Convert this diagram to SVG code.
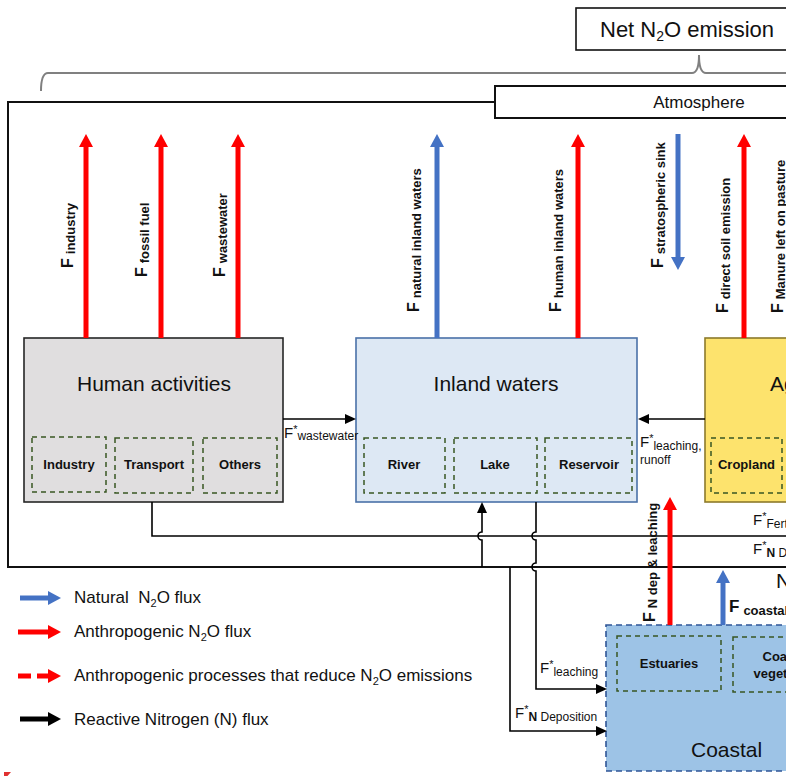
<svg xmlns="http://www.w3.org/2000/svg" width="786" height="776" viewBox="0 0 786 776">
<style>
text{font-family:"Liberation Sans",Arial,sans-serif;fill:#111}
.big{font-size:21px}
.bx{font-size:13px;font-weight:bold;text-anchor:middle}
.fl{font-size:16px;font-weight:bold}
.fs{font-size:13px;font-weight:bold}
.fk{font-size:15px}
.sup{font-size:11px}
.sb{font-size:12px}
.leg{font-size:17px}
.sub2{font-size:11px}
.sbox{fill:none;stroke:#385723;stroke-width:1.5;stroke-dasharray:5,4}
.red{stroke:#ff0000;stroke-width:5;fill:none}
.blue{stroke:#4472c4;stroke-width:5;fill:none}
.blk{stroke:#000;stroke-width:1.6;fill:none}
</style>
<defs>
<marker id="hr" markerUnits="userSpaceOnUse" markerWidth="13" markerHeight="14" refX="0" refY="7" orient="auto" viewBox="0 0 13 14"><path d="M0,0 L13,7 L0,14 Z" fill="#ff0000"/></marker>
<marker id="hb" markerUnits="userSpaceOnUse" markerWidth="13" markerHeight="14" refX="0" refY="7" orient="auto" viewBox="0 0 13 14"><path d="M0,0 L13,7 L0,14 Z" fill="#4472c4"/></marker>
<marker id="hk" markerUnits="userSpaceOnUse" markerWidth="11" markerHeight="10" refX="0" refY="5" orient="auto" viewBox="0 0 11 10"><path d="M0,0 L11,5 L0,10 Z" fill="#000"/></marker>
<marker id="hk2" markerUnits="userSpaceOnUse" markerWidth="13" markerHeight="14" refX="0" refY="7" orient="auto" viewBox="0 0 13 14"><path d="M0,0 L13,7 L0,14 Z" fill="#000"/></marker>
</defs>

<!-- top: net emission box and brace -->
<g id="net-emission">
<rect x="576" y="8" width="230" height="42" fill="#fff" stroke="#111" stroke-width="1.6"/>
<text class="big" x="600" y="37" style="font-size:22px">Net N<tspan class="sub2" style="font-size:14px" dy="4">2</tspan><tspan dy="-4">O emission</tspan></text>
</g>
<path id="brace" d="M41,91 Q41,73 48,73 H692 Q699,73 699,55 Q699,73 706,73 H800" fill="none" stroke="#808080" stroke-width="2"/>

<!-- outer frame -->
<rect id="frame" x="8" y="102" width="800" height="465" fill="none" stroke="#111" stroke-width="2"/>

<g id="atmosphere">
<rect x="495" y="86" width="310" height="32" fill="#fff" stroke="#111" stroke-width="2"/>
<text x="699" y="108" style="font-size:17px;text-anchor:middle">Atmosphere</text>
</g>

<!-- nodes -->
<g id="human-activities">
<rect x="24" y="338" width="259" height="164" fill="#e0dedf" stroke="#262626" stroke-width="1.6"/>
<text class="big" x="154" y="391" text-anchor="middle">Human activities</text>
<rect class="sbox" x="32" y="437" width="74" height="55"/>
<text class="bx" x="69" y="469">Industry</text>
<rect class="sbox" x="115" y="438" width="78" height="55"/>
<text class="bx" x="154" y="469">Transport</text>
<rect class="sbox" x="203" y="438" width="74" height="55"/>
<text class="bx" x="240" y="469">Others</text>
</g>

<g id="inland-waters">
<rect x="356" y="338" width="281" height="164" fill="#dde8f4" stroke="#4a71a8" stroke-width="1.6"/>
<text class="big" x="496" y="391" text-anchor="middle">Inland waters</text>
<rect class="sbox" x="364" y="438" width="81" height="55"/>
<text class="bx" x="404" y="469">River</text>
<rect class="sbox" x="454" y="438" width="83" height="55"/>
<text class="bx" x="495" y="469">Lake</text>
<rect class="sbox" x="545" y="438" width="87" height="55"/>
<text class="bx" x="589" y="469">Reservoir</text>
</g>

<g id="agriculture">
<rect x="705" y="338" width="120" height="164" fill="#fde36d" stroke="#8c7a2b" stroke-width="1.6"/>
<text class="big" x="770" y="391">Agriculture</text>
<rect class="sbox" x="711" y="438" width="71" height="55"/>
<text class="bx" x="746.5" y="469">Cropland</text>
</g>

<g id="coastal">
<rect x="606" y="625" width="220" height="146" fill="#9dc3e6" stroke="#2f5597" stroke-width="1.6" stroke-dasharray="6,4"/>
<rect class="sbox" x="617" y="636" width="104" height="55"/>
<text class="bx" x="669" y="668">Estuaries</text>
<rect class="sbox" x="733" y="637" width="100" height="55"/>
<text class="bx" x="786" y="661">Coastal</text>
<text class="bx" x="786" y="678">vegetation</text>
<text class="big" x="691" y="757">Coastal</text>
</g>

<text id="n-region" class="big" x="776" y="588">N</text>

<!-- connectors -->
<g id="connectors">
<line class="red" x1="86" y1="338" x2="86" y2="147" marker-end="url(#hr)"/>
<line class="red" x1="161" y1="338" x2="161" y2="147" marker-end="url(#hr)"/>
<line class="red" x1="238" y1="338" x2="238" y2="147" marker-end="url(#hr)"/>
<line class="blue" x1="437" y1="338" x2="437" y2="147" marker-end="url(#hb)"/>
<line class="red" x1="578" y1="338" x2="578" y2="147" marker-end="url(#hr)"/>
<line class="blue" x1="678" y1="134" x2="678" y2="257" marker-end="url(#hb)"/>
<line class="red" x1="744" y1="338" x2="744" y2="147" marker-end="url(#hr)"/>

<line class="blk" x1="283" y1="419" x2="345" y2="419" marker-end="url(#hk)"/>
<line class="blk" x1="705" y1="419" x2="649" y2="419" marker-end="url(#hk)"/>
<path class="blk" d="M152,502 V536 H800"/>
<path class="blk" d="M482,567 V540 A4,4 0 0 1 482,532 V513" marker-end="url(#hk)"/>
<path class="blk" d="M536,502 V532 A4,4 0 0 0 536,540 V563 A4,4 0 0 0 536,571 V689 H596" marker-end="url(#hk)"/>
<path class="blk" d="M510,567 V731 H596" marker-end="url(#hk)"/>

<line class="red" x1="670" y1="625" x2="670" y2="510" marker-end="url(#hr)"/>
<line class="blue" x1="723" y1="625" x2="723" y2="583" marker-end="url(#hb)"/>
</g>

<!-- flux labels -->
<g id="flux-labels">
<text class="fl" transform="translate(73,268) rotate(-90)">F<tspan class="fs" dx="4" dy="2">industry</tspan></text>
<text class="fl" transform="translate(147,277) rotate(-90)">F<tspan class="fs" dx="4" dy="2">fossil fuel</tspan></text>
<text class="fl" transform="translate(225,277) rotate(-90)">F<tspan class="fs" dx="4" dy="2">wastewater</tspan></text>
<text class="fl" transform="translate(419,312) rotate(-90)">F<tspan class="fs" dx="4" dy="2">natural inland waters</tspan></text>
<text class="fl" transform="translate(561,312) rotate(-90)">F<tspan class="fs" dx="4" dy="2">human inland waters</tspan></text>
<text class="fl" transform="translate(663,268) rotate(-90)">F<tspan class="fs" dx="4" dy="2">stratospheric sink</tspan></text>
<text class="fl" transform="translate(728,313) rotate(-90)">F<tspan class="fs" dx="4" dy="2">direct soil emission</tspan></text>
<text class="fl" transform="translate(783,313) rotate(-90)">F<tspan class="fs" dx="4" dy="2">Manure left on pasture</tspan></text>
<text class="fl" transform="translate(655,622) rotate(-90)">F<tspan class="fs" dx="4" dy="2">N dep &amp; leaching</tspan></text>
<text class="fl" x="729" y="612" style="font-size:17px">F<tspan class="fs" dx="4" dy="3">coastal</tspan></text>

<text class="fk" x="284" y="438">F<tspan class="sup" dy="-5">*</tspan><tspan class="sb" dy="7">wastewater</tspan></text>
<text class="fk" x="640" y="447">F<tspan class="sup" dy="-5">*</tspan><tspan class="sb" dy="8">leaching,</tspan></text>
<text class="sb" x="640" y="464">runoff</text>
<text class="fk" x="753" y="525">F<tspan class="sup" dy="-5">*</tspan><tspan class="sb" dy="8">Fertilizer</tspan></text>
<text class="fk" x="753" y="554">F<tspan class="sup" dy="-5">*</tspan><tspan class="sb" dy="8" font-weight="bold">N</tspan><tspan class="sb"> Deposition</tspan></text>
<text class="fk" x="540" y="673">F<tspan class="sup" dy="-5">*</tspan><tspan class="sb" dy="8">leaching</tspan></text>
<text class="fk" x="515" y="718">F<tspan class="sup" dy="-5">*</tspan><tspan class="sb" dy="8" font-weight="bold">N</tspan><tspan class="sb"> Deposition</tspan></text>
</g>

<!-- legend -->
<g id="legend">
<line class="blue" x1="20" y1="598" x2="48" y2="598" marker-end="url(#hb)"/>
<text class="leg" x="74" y="603">Natural&#160; N<tspan class="sub2" dy="4">2</tspan><tspan dy="-4">O flux</tspan></text>
<line class="red" x1="18" y1="632" x2="48" y2="632" marker-end="url(#hr)"/>
<text class="leg" x="74" y="637">Anthropogenic N<tspan class="sub2" dy="4">2</tspan><tspan dy="-4">O flux</tspan></text>
<line class="red" x1="18" y1="676" x2="48" y2="676" stroke-dasharray="13,6" marker-end="url(#hr)"/>
<text class="leg" x="74" y="681">Anthropogenic processes that reduce N<tspan class="sub2" dy="4">2</tspan><tspan dy="-4">O emissions</tspan></text>
<line x1="20" y1="719" x2="48" y2="719" stroke="#000" stroke-width="5" marker-end="url(#hk2)"/>
<text class="leg" x="74" y="725">Reactive Nitrogen (N) flux</text>
</g>

<polygon points="4,772 11,772 7.5,776 4,776" fill="#e03030"/>
</svg>
